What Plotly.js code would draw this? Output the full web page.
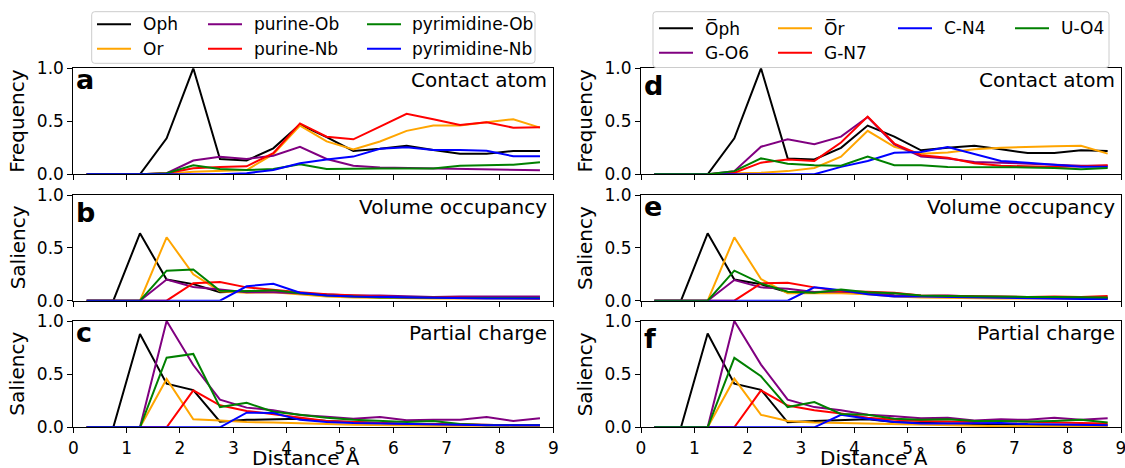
<!DOCTYPE html>
<html>
<head>
<meta charset="utf-8">
<script src="https://cdn.plot.ly/plotly-3.0.1.min.js"></script>
<style>html,body{margin:0;padding:0;background:#fff;}#chart{width:1125px;height:468px;}</style>
</head>
<body>
<div id="chart"></div>
<script>
// ---------------- data ----------------
const distance = [0.25,0.75,1.25,1.75,2.25,2.75,3.25,3.75,4.25,4.75,5.25,5.75,6.25,6.75,7.25,7.75,8.25,8.75];
const xTickVals = [0,1,2,3,4,5,6,7,8,9];
const yTickVals = [0,0.5,1];
const yTickText = ['0.0','0.5','1.0'];

const leftNames = ['Oph','Or','purine-Ob','purine-Nb','pyrimidine-Ob','pyrimidine-Nb'];
const rightNames = ['O\u0305ph','O\u0305r','G-O6','G-N7','C-N4','U-O4'];
const leftColors = ['#000000','#FFA500','#800080','#FF0000','#008000','#0000FF'];
const rightColors = ['#000000','#FFA500','#800080','#FF0000','#0000FF','#008000'];

const panelLetters = ['a','b','c','d','e','f'];
const panelTitles = ['Contact atom','Volume occupancy','Partial charge','Contact atom','Volume occupancy','Partial charge'];
const yTitles = ['Frequency','Saliency','Saliency','Frequency','Saliency','Saliency'];
const xTitle = 'Distance Å';

// panel a: contact atom (left)
const oph_a   = [0,0,0,0.34,1.0,0.145,0.13,0.245,0.47,0.35,0.22,0.24,0.27,0.23,0.195,0.195,0.22,0.22];
const or_a    = [0,0,0,0.005,0.025,0.03,0.04,0.19,0.46,0.31,0.235,0.31,0.41,0.46,0.46,0.49,0.52,0.44];
const purOb_a = [0,0,0,0.01,0.13,0.165,0.145,0.175,0.26,0.145,0.08,0.065,0.06,0.055,0.05,0.045,0.04,0.038];
const purNb_a = [0,0,0,0.01,0.057,0.07,0.075,0.2,0.48,0.355,0.33,0.45,0.57,0.52,0.465,0.49,0.44,0.445];
const pyrOb_a = [0,0,0,0.01,0.085,0.05,0.04,0.05,0.094,0.05,0.055,0.055,0.055,0.055,0.08,0.085,0.09,0.113];
const pyrNb_a = [0,0,0,0,0,0,0.01,0.04,0.104,0.14,0.167,0.24,0.255,0.23,0.23,0.223,0.17,0.17];
// panel b: volume occupancy (left)
const oph_b   = [0,0,0.637,0.2,0.157,0.08,0.09,0.095,0.07,0.05,0.04,0.035,0.03,0.03,0.025,0.025,0.025,0.02];
const or_b    = [0,0,0,0.6,0.25,0.09,0.075,0.08,0.06,0.04,0.03,0.025,0.02,0.02,0.02,0.02,0.02,0.02];
const purOb_b = [0,0,0,0.2,0.13,0.107,0.08,0.08,0.07,0.06,0.05,0.05,0.04,0.035,0.04,0.04,0.04,0.04];
const purNb_b = [0,0,0,0,0.165,0.177,0.126,0.1,0.08,0.06,0.05,0.035,0.03,0.03,0.025,0.025,0.025,0.02];
const pyrOb_b = [0,0,0,0.284,0.296,0.095,0.09,0.1,0.07,0.05,0.04,0.03,0.03,0.025,0.025,0.025,0.025,0.025];
const pyrNb_b = [0,0,0,0,0,0,0.136,0.161,0.076,0.05,0.04,0.035,0.03,0.025,0.025,0.02,0.02,0.02];
// panel c: partial charge (left)
const oph_c   = [0,0,0.878,0.41,0.35,0.053,0.07,0.075,0.08,0.06,0.05,0.04,0.03,0.03,0.025,0.02,0.02,0.02];
const or_c    = [0,0,0,0.455,0.075,0.063,0.05,0.045,0.035,0.03,0.025,0.02,0.015,0.015,0.015,0.015,0.015,0.015];
const purOb_c = [0,0,0,1.0,0.586,0.26,0.185,0.16,0.116,0.1,0.08,0.097,0.066,0.07,0.07,0.097,0.06,0.085];
const purNb_c = [0,0,0,0,0.348,0.207,0.154,0.125,0.09,0.06,0.05,0.04,0.03,0.03,0.025,0.02,0.02,0.02];
const pyrOb_c = [0,0,0,0.655,0.69,0.19,0.23,0.147,0.116,0.09,0.07,0.06,0.05,0.06,0.03,0.02,0.02,0.02];
const pyrNb_c = [0,0,0,0,0,0,0.138,0.135,0.07,0.05,0.04,0.035,0.03,0.025,0.02,0.02,0.02,0.02];
// panel d: contact atom (right)
const ophBar_d = [0,0,0,0.34,1.0,0.15,0.14,0.25,0.46,0.355,0.226,0.25,0.27,0.236,0.2,0.2,0.226,0.22];
const orBar_d  = [0,0,0,0.01,0.015,0.03,0.06,0.167,0.41,0.26,0.195,0.205,0.236,0.25,0.26,0.265,0.27,0.195];
const gO6_d    = [0,0,0,0.03,0.26,0.33,0.283,0.355,0.54,0.283,0.167,0.15,0.116,0.11,0.1,0.09,0.08,0.08];
const gN7_d    = [0,0,0,0.015,0.11,0.14,0.126,0.3,0.544,0.29,0.18,0.157,0.104,0.08,0.075,0.07,0.075,0.085];
const cN4_d    = [0,0,0,0,0,0,0,0.07,0.126,0.204,0.21,0.258,0.195,0.126,0.11,0.094,0.072,0.072];
const uO4_d    = [0,0,0,0.03,0.15,0.1,0.085,0.08,0.167,0.085,0.085,0.07,0.07,0.07,0.065,0.06,0.047,0.06];
// panel e: volume occupancy (right)
const ophBar_e = [0,0,0.637,0.2,0.155,0.08,0.08,0.085,0.07,0.05,0.04,0.035,0.03,0.03,0.025,0.025,0.02,0.02];
const orBar_e  = [0,0,0,0.6,0.205,0.07,0.07,0.07,0.06,0.04,0.03,0.025,0.02,0.02,0.02,0.02,0.02,0.02];
const gO6_e    = [0,0,0,0.196,0.126,0.114,0.082,0.09,0.07,0.05,0.045,0.05,0.04,0.035,0.035,0.03,0.03,0.025];
const gN7_e    = [0,0,0,0,0.164,0.17,0.126,0.09,0.085,0.075,0.05,0.045,0.04,0.035,0.035,0.04,0.035,0.045];
const cN4_e    = [0,0,0,0,0,0,0.126,0.1,0.06,0.04,0.04,0.035,0.03,0.025,0.025,0.02,0.015,0.015];
const uO4_e    = [0,0,0,0.284,0.164,0.085,0.076,0.107,0.08,0.07,0.05,0.045,0.04,0.035,0.035,0.035,0.03,0.03];
// panel f: partial charge (right)
const ophBar_f = [0,0,0.883,0.41,0.353,0.047,0.06,0.07,0.075,0.05,0.04,0.035,0.03,0.03,0.025,0.02,0.02,0.02];
const orBar_f  = [0,0,0,0.457,0.117,0.06,0.045,0.04,0.035,0.025,0.02,0.015,0.01,0.01,0.01,0.01,0.01,0.01];
const gO6_f    = [0,0,0,1.0,0.59,0.26,0.19,0.16,0.117,0.104,0.085,0.09,0.065,0.075,0.07,0.09,0.07,0.085];
const gN7_f    = [0,0,0,0,0.347,0.205,0.16,0.13,0.09,0.07,0.06,0.055,0.05,0.06,0.05,0.045,0.04,0.035];
const cN4_f    = [0,0,0,0,0,0,0,0.117,0.08,0.05,0.035,0.035,0.035,0.04,0.03,0.025,0.02,0.02];
const uO4_f    = [0,0,0,0.653,0.48,0.19,0.237,0.126,0.117,0.08,0.07,0.075,0.06,0.06,0.055,0.06,0.07,0.045];

const panelSeries = [
  [oph_a, or_a, purOb_a, purNb_a, pyrOb_a, pyrNb_a],
  [oph_b, or_b, purOb_b, purNb_b, pyrOb_b, pyrNb_b],
  [oph_c, or_c, purOb_c, purNb_c, pyrOb_c, pyrNb_c],
  [ophBar_d, orBar_d, gO6_d, gN7_d, cN4_d, uO4_d],
  [ophBar_e, orBar_e, gO6_e, gN7_e, cN4_e, uO4_e],
  [ophBar_f, orBar_f, gO6_f, gN7_f, cN4_f, uO4_f]
];

// ---------------- layout geometry (pixels) ----------------
const W = 1125, H = 468;
const px = v => v / W;
const py = v => 1 - v / H;
const colX = [[73.3, 553.3], [641, 1121]];
const rowY = [[68.3, 174.3], [195, 300.7], [321, 427.3]];
const FONT = 'DejaVu Sans';

const traces = [];
const layout = {
  width: W, height: H,
  margin: {l: 0, r: 0, t: 0, b: 0, pad: 0},
  paper_bgcolor: '#ffffff', plot_bgcolor: '#ffffff',
  showlegend: false,
  font: {family: FONT, color: '#000000', size: 17},
  annotations: [], shapes: []
};

for (let p = 0; p < 6; p++) {
  const col = Math.floor(p / 3), row = p % 3;
  const n = p + 1;
  const xa = 'xaxis' + (n === 1 ? '' : n), ya = 'yaxis' + (n === 1 ? '' : n);
  const xid = 'x' + (n === 1 ? '' : n), yid = 'y' + (n === 1 ? '' : n);
  layout[xa] = {
    domain: [px(colX[col][0]), px(colX[col][1])], anchor: yid,
    range: [0, 9], tickvals: xTickVals, ticks: 'outside', ticklen: 5, tickwidth: 1, tickcolor: '#000',
    showticklabels: row === 2, tickfont: {size: 17, family: FONT, color: '#000'}, ticklabeloverflow: 'allow',
    showline: true, mirror: true, linecolor: '#000', linewidth: 1,
    showgrid: false, zeroline: false, fixedrange: true
  };
  layout[ya] = {
    domain: [py(rowY[row][1]), py(rowY[row][0])], anchor: xid,
    range: [0, 1], tickvals: yTickVals, ticktext: yTickText, ticks: 'outside', ticklen: 5, tickwidth: 1, tickcolor: '#000',
    tickfont: {size: 17, family: FONT, color: '#000'}, ticklabeloverflow: 'allow',
    showline: true, mirror: true, linecolor: '#000', linewidth: 1,
    showgrid: false, zeroline: false, fixedrange: true
  };
  const names = col === 0 ? leftNames : rightNames;
  const colors = col === 0 ? leftColors : rightColors;
  panelSeries[p].forEach((ys, i) => {
    traces.push({
      type: 'scatter', mode: 'lines', x: distance, y: ys, name: names[i],
      xaxis: xid, yaxis: yid, line: {color: colors[i], width: 2}, hoverinfo: 'x+y+name'
    });
  });
  // panel letter
  const tallLetter = (p === 1 || p === 3 || p === 5);
  layout.annotations.push({
    text: '<b>' + panelLetters[p] + '</b>', xref: xid + ' domain', yref: yid + ' domain',
    x: 0, y: 1, xanchor: 'left', yanchor: 'top', xshift: 2.5, yshift: tallLetter ? -1.5 : 4,
    showarrow: false, borderpad: 0, borderwidth: 0, font: {size: 27, family: FONT, color: '#000'}
  });
  // panel title
  layout.annotations.push({
    text: panelTitles[p], xref: xid + ' domain', yref: yid + ' domain',
    x: 1, y: 1, xanchor: 'right', yanchor: 'top', xshift: -6, yshift: 0,
    showarrow: false, borderpad: 0, borderwidth: 0, font: {size: 20, family: FONT, color: '#000'}
  });
  // y title
  layout.annotations.push({
    text: yTitles[p], xref: 'paper', yref: 'paper',
    x: px(colX[col][0] - 55.8), y: py((rowY[row][0] + rowY[row][1]) / 2),
    xanchor: 'center', yanchor: 'middle', textangle: -90,
    showarrow: false, borderpad: 0, borderwidth: 0, font: {size: 20, family: FONT, color: '#000'}
  });
  if (row === 2) {
    layout.annotations.push({
      text: xTitle, xref: 'paper', yref: 'paper',
      x: px((colX[col][0] + colX[col][1]) / 2 - 7.5), y: py(457.6),
      xanchor: 'center', yanchor: 'middle',
      showarrow: false, borderpad: 0, borderwidth: 0, font: {size: 20, family: FONT, color: '#000'}
    });
  }
}

// ---------------- legends (drawn as shapes + text) ----------------
function roundRect(x0, y0, x1, y1, r) {
  const X = v => px(v).toFixed(6), Y = v => py(v).toFixed(6);
  return 'M' + X(x0 + r) + ',' + Y(y0) + ' L' + X(x1 - r) + ',' + Y(y0) +
    ' Q' + X(x1) + ',' + Y(y0) + ' ' + X(x1) + ',' + Y(y0 + r) +
    ' L' + X(x1) + ',' + Y(y1 - r) + ' Q' + X(x1) + ',' + Y(y1) + ' ' + X(x1 - r) + ',' + Y(y1) +
    ' L' + X(x0 + r) + ',' + Y(y1) + ' Q' + X(x0) + ',' + Y(y1) + ' ' + X(x0) + ',' + Y(y1 - r) +
    ' L' + X(x0) + ',' + Y(y0 + r) + ' Q' + X(x0) + ',' + Y(y0) + ' ' + X(x0 + r) + ',' + Y(y0) + ' Z';
}
function addLegend(box, names, colors, slots, colStarts, rows) {
  layout.shapes.push({type: 'path', xref: 'paper', yref: 'paper', path: roundRect(box[0], box[1], box[2], box[3], 3),
    line: {color: '#cccccc', width: 1}, fillcolor: 'rgba(255,255,255,0.8)', layer: 'above'});
  names.forEach((nm, i) => {
    const c = slots[i][0], r = slots[i][1];
    const x0 = colStarts[c], yy = rows[r];
    layout.shapes.push({type: 'line', xref: 'paper', yref: 'paper', x0: px(x0), x1: px(x0 + 34), y0: py(yy), y1: py(yy),
      line: {color: colors[i], width: 2}, layer: 'above'});
    layout.annotations.push({text: nm, xref: 'paper', yref: 'paper', x: px(x0 + 45.5), y: py(yy),
      xanchor: 'left', yanchor: 'middle', showarrow: false, borderpad: 0, borderwidth: 0,
      font: {size: 17, family: FONT, color: '#000'}});
  });
}
addLegend([91.7, 11.7, 535, 63.3], leftNames, leftColors,
  [[0,0],[0,1],[1,0],[1,1],[2,0],[2,1]], [97, 208, 367], [24.3, 48.7]);
addLegend([653, 11.7, 1109, 67.5], rightNames, rightColors,
  [[0,0],[1,0],[0,1],[1,1],[2,0],[3,0]], [659, 778, 898, 1015], [28.3, 52.7]);

Plotly.newPlot('chart', traces, layout, {displayModeBar: false, staticPlot: true});
</script>
</body>
</html>
